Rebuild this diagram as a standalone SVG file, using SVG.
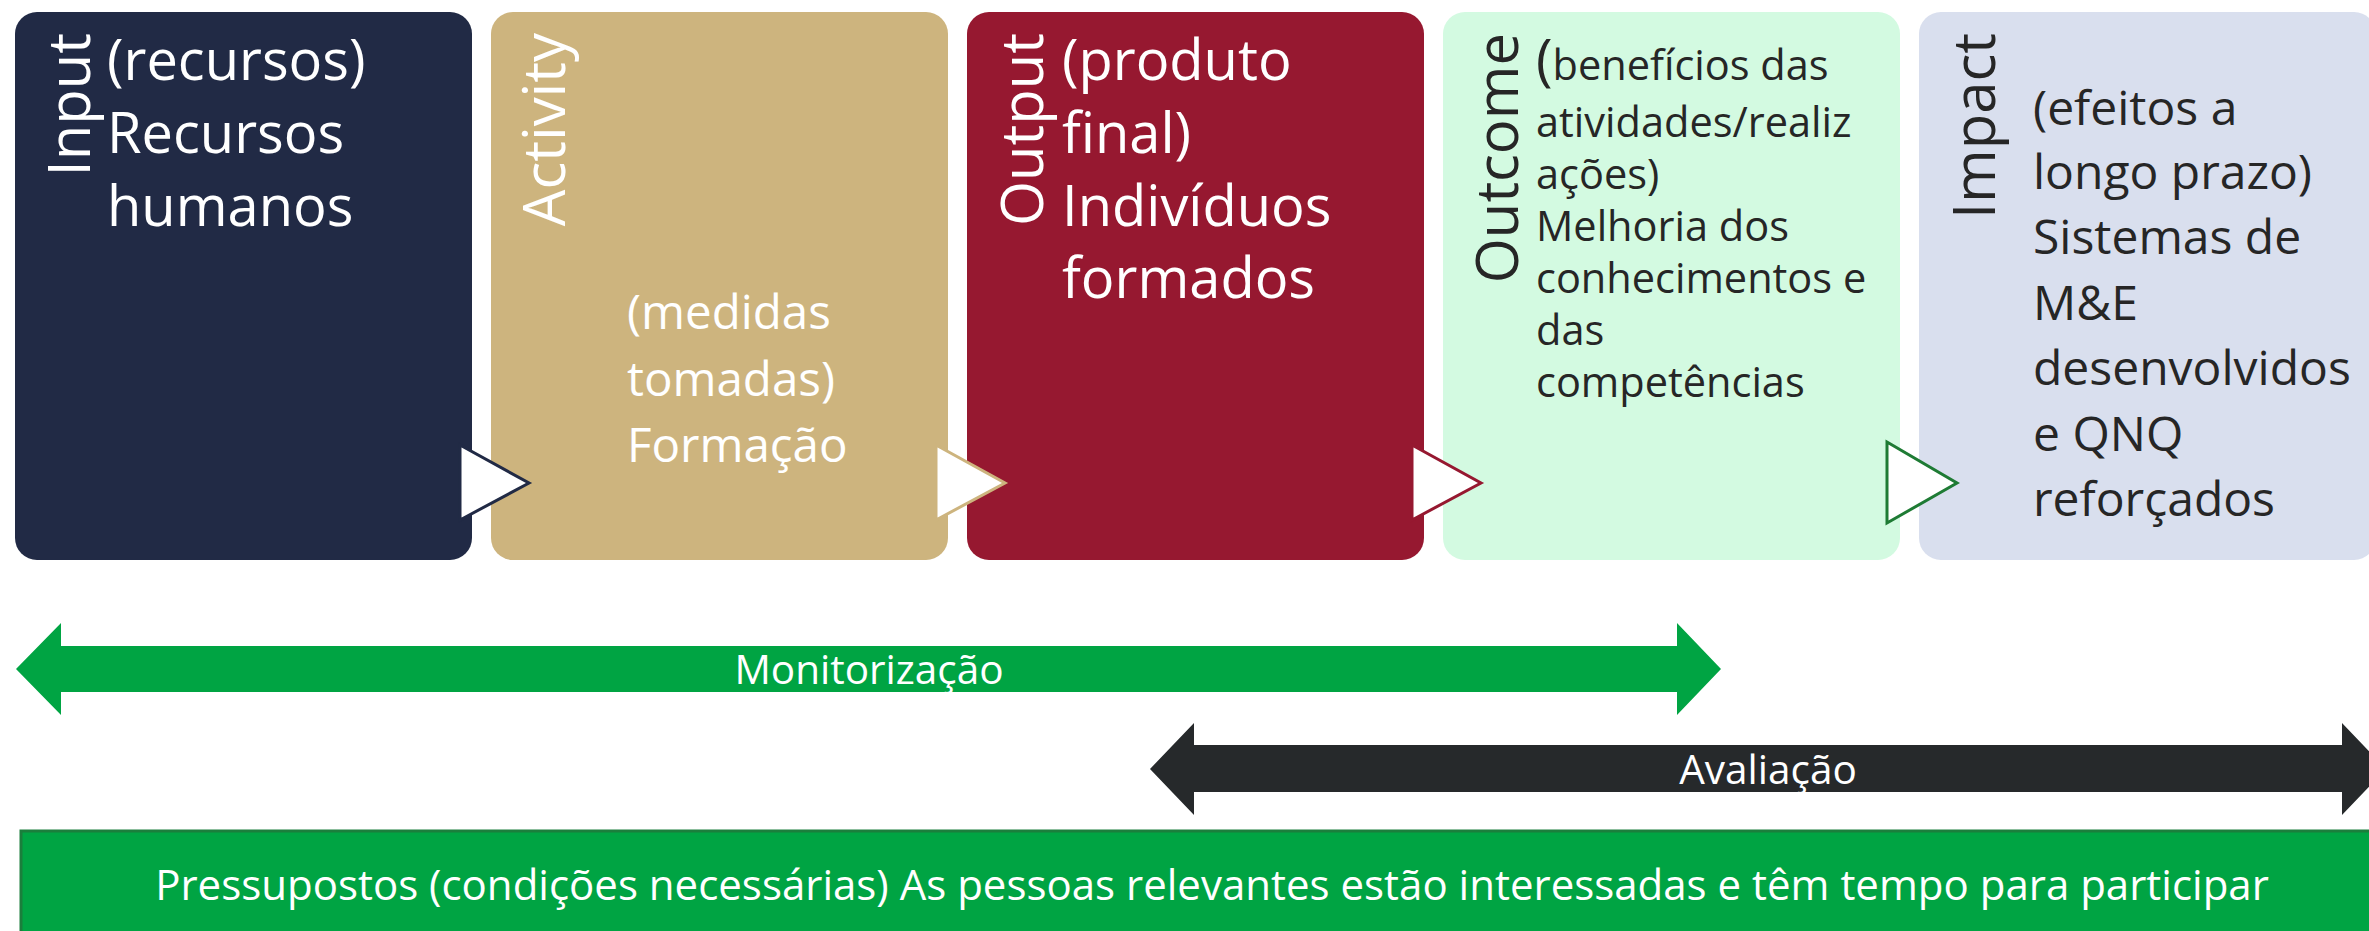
<svg xmlns="http://www.w3.org/2000/svg" width="2369" height="931" viewBox="0 0 2369 931">
<style>
text{font-family:"Open Sans","Liberation Sans",sans-serif;}
.w{fill:#ffffff;}
.d{fill:#262626;}
.lbl{font-size:58px;}
.b56{font-size:56px;}
.b47{font-size:47.5px;}
.b41{font-size:41.5px;}
.b48{font-size:48px;}
.tri{fill:#ffffff;stroke-width:3;stroke-linejoin:miter;}
</style>
<rect width="2369" height="931" fill="#ffffff"/>
<g id="node-input">
<rect x="15" y="12" width="457" height="548" rx="22" fill="#212a45"/>
<text class="w lbl" text-anchor="end" transform="translate(90,33) rotate(-90)">Input</text>
<text class="w b56" x="107" y="80">(recursos)</text>
<text class="w b56" x="107" y="153">Recursos</text>
<text class="w b56" x="107" y="226">humanos</text>
</g>
<g id="node-activity">
<rect x="491" y="12" width="457" height="548" rx="22" fill="#cdb47e"/>
<text class="w lbl" text-anchor="end" transform="translate(565,33) rotate(-90)">Activity</text>
<text class="w b47" x="627" y="329">(medidas</text>
<text class="w b47" x="627" y="396">tomadas)</text>
<text class="w b47" x="627" y="462">Formação</text>
</g>
<g id="node-output">
<rect x="967" y="12" width="457" height="548" rx="22" fill="#961830"/>
<text class="w lbl" text-anchor="end" transform="translate(1043,33) rotate(-90)">Output</text>
<text class="w b56" x="1062" y="80">(produto</text>
<text class="w b56" x="1062" y="153">final)</text>
<text class="w b56" x="1062" y="226">Indivíduos</text>
<text class="w b56" x="1062" y="298">formados</text>
</g>
<g id="node-outcome">
<rect x="1443" y="12" width="457" height="548" rx="22" fill="#d3fae1"/>
<text class="d lbl" text-anchor="end" transform="translate(1518,33) rotate(-90)">Outcome</text>
<text class="d b41" x="1536" y="80"><tspan font-size="56">(</tspan>benefícios das</text>
<text class="d b41" x="1536" y="137">atividades/realiz</text>
<text class="d b41" x="1536" y="189">ações)</text>
<text class="d b41" x="1536" y="241">Melhoria dos</text>
<text class="d b41" x="1536" y="293">conhecimentos e</text>
<text class="d b41" x="1536" y="345">das</text>
<text class="d b41" x="1536" y="397">competências</text>
</g>
<g id="node-impact">
<rect x="1919" y="12" width="457" height="548" rx="22" fill="#d9dfee"/>
<text class="d lbl" text-anchor="end" transform="translate(1995,33) rotate(-90)">Impact</text>
<text class="d b48" x="2033" y="125">(efeitos a</text>
<text class="d b48" x="2033" y="189">longo prazo)</text>
<text class="d b48" x="2033" y="254">Sistemas de</text>
<text class="d b48" x="2033" y="320">M&amp;E</text>
<text class="d b48" x="2033" y="385">desenvolvidos</text>
<text class="d b48" x="2033" y="451">e QNQ</text>
<text class="d b48" x="2033" y="516">reforçados</text>
</g>
<g id="connectors">
<polygon class="tri" stroke="#212a45" points="460,445 529,483 460,520"/>
<polygon class="tri" stroke="#cdb47e" points="936,445 1005,483 936,520"/>
<polygon class="tri" stroke="#961830" points="1412,445 1481,483 1412,520"/>
<polygon class="tri" stroke="#1e7b34" points="1887,442 1957,483 1887,523"/>
</g>
<g id="monitorizacao">
<polygon fill="#00a443" points="16,669 61,623 61,646 1677,646 1677,623 1721,669 1677,715 1677,692 61,692 61,715"/>
<text class="w" font-size="40.5" x="869" y="684" text-anchor="middle">Monitorização</text>
</g>
<g id="avaliacao">
<polygon fill="#26292b" points="1150,769 1194,723 1194,745 2342,745 2342,723 2386,769 2342,815 2342,792 1194,792 1194,815"/>
<text class="w" font-size="40.5" x="1768" y="784" text-anchor="middle">Avaliação</text>
</g>
<g id="pressupostos">
<rect x="21" y="831" width="2360" height="110" fill="#00a443" stroke="#1b7e3c" stroke-width="3"/>
<text class="w" font-size="42" x="1212" y="900" text-anchor="middle">Pressupostos (condições necessárias) As pessoas relevantes estão interessadas e têm tempo para participar</text>
</g>
</svg>
